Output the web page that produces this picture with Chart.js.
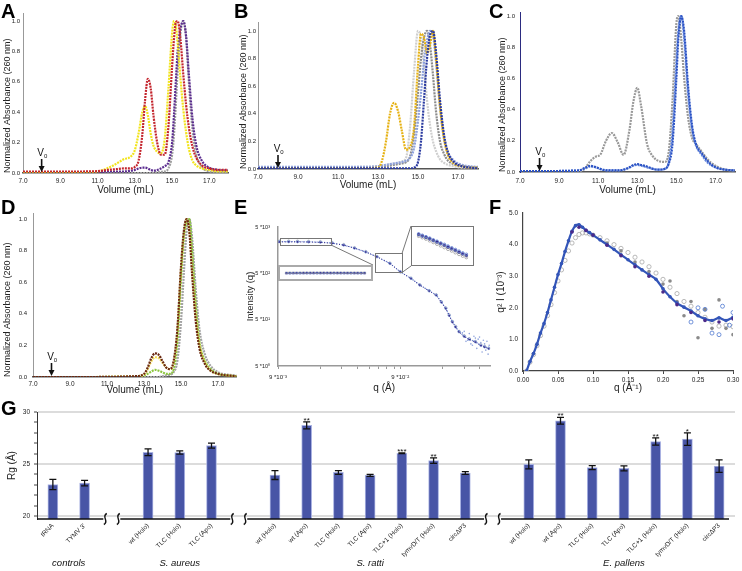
<!DOCTYPE html>
<html>
<head>
<meta charset="utf-8">
<script src="https://cdn.jsdelivr.net/npm/chart.js@4.4.1/dist/chart.umd.min.js"></script>
<style>
  html, body { margin: 0; padding: 0; background: #fff; }
  #fig { position: relative; width: 742px; height: 571px; overflow: hidden; font-family: "Liberation Sans", Arial, sans-serif; }
  #fig canvas { position: absolute; }
  .letter { position: absolute; font-weight: bold; font-size: 20px; line-height: 20px; color: #000; z-index: 5; }
  .inset { position: absolute; background: #fff; z-index: 4; }
  .inset canvas { position: static !important; display: block; }
</style>
</head>
<body>
<div id="fig">
  <canvas id="cA" width="240" height="197" style="left:0;top:0"></canvas>
  <canvas id="cB" width="254" height="192" style="left:236px;top:0"></canvas>
  <canvas id="cC" width="247" height="197" style="left:495px;top:0"></canvas>
  <canvas id="cD" width="245" height="202" style="left:0;top:195px"></canvas>
  <canvas id="cE" width="250" height="200" style="left:245px;top:195px"></canvas>
  <canvas id="cF" width="247" height="200" style="left:495px;top:195px"></canvas>
  <canvas id="cG" width="742" height="176" style="left:0;top:395px"></canvas>
  <div class="inset" style="left:278px;top:265px;border:2px solid #aaa"><canvas id="cE1" width="91" height="12"></canvas></div>
  <div class="inset" style="left:411px;top:226px;border:1px solid #777"><canvas id="cE2" width="61" height="38"></canvas></div>
  <div class="letter" style="left:1px;top:1px">A</div>
  <div class="letter" style="left:234px;top:1px">B</div>
  <div class="letter" style="left:489px;top:1px">C</div>
  <div class="letter" style="left:1px;top:197px">D</div>
  <div class="letter" style="left:234px;top:197px">E</div>
  <div class="letter" style="left:489px;top:197px">F</div>
  <div class="letter" style="left:1px;top:398px">G</div>
</div>
<script>
// ---- chromatograms (A-D) ----
const volTicks = [7, 9, 11, 13, 15, 17];
const absTicks = [0, 0.2, 0.4, 0.6, 0.8, 1.0];

const xA = [7.0, 10.0, 11.0, 11.5, 12.0, 12.4, 12.8, 13.0, 13.2, 13.4, 13.55, 13.7, 13.85, 14.0, 14.2, 14.4, 14.6, 14.8, 15.0, 15.1, 15.2, 15.3, 15.45, 15.6, 15.75, 15.9, 16.1, 16.3, 16.6, 17.0, 17.5, 18.0];
const redA = [0.01, 0.01, 0.012, 0.02, 0.025, 0.03, 0.03, 0.04, 0.08, 0.25, 0.48, 0.62, 0.56, 0.38, 0.2, 0.12, 0.12, 0.3, 0.7, 0.88, 0.99, 1.0, 0.88, 0.65, 0.45, 0.3, 0.17, 0.1, 0.05, 0.03, 0.02, 0.02];
const yellowA = [0.005, 0.005, 0.01, 0.03, 0.06, 0.09, 0.11, 0.15, 0.26, 0.40, 0.44, 0.38, 0.26, 0.18, 0.14, 0.13, 0.22, 0.55, 0.92, 1.0, 0.97, 0.85, 0.62, 0.42, 0.27, 0.16, 0.08, 0.05, 0.03, 0.02, 0.01, 0.01];
const purpleA = [0.005, 0.005, 0.005, 0.01, 0.01, 0.01, 0.015, 0.02, 0.03, 0.035, 0.035, 0.03, 0.02, 0.015, 0.02, 0.03, 0.045, 0.07, 0.2, 0.38, 0.6, 0.8, 0.95, 1.0, 0.9, 0.65, 0.35, 0.18, 0.08, 0.035, 0.02, 0.015];
const grayA = [0, 0, 0, 0, 0, 0, 0, 0, 0, 0, 0, 0, 0, 0, 0.005, 0.008, 0.01, 0.03, 0.12, 0.25, 0.45, 0.68, 0.92, 1.0, 0.9, 0.6, 0.28, 0.12, 0.04, 0.01, 0.005, 0.005];

const xB = [7.0, 10.0, 12.0, 13.0, 13.2, 13.4, 13.6, 13.8, 14.0, 14.2, 14.4, 14.6, 14.8, 15.0, 15.15, 15.3, 15.45, 15.6, 15.75, 15.9, 16.1, 16.3, 16.5, 16.8, 17.2, 17.6, 18.0];
const goldB = [0.005, 0.005, 0.005, 0.01, 0.06, 0.2, 0.4, 0.48, 0.42, 0.27, 0.14, 0.16, 0.3, 0.75, 0.98, 0.95, 0.84, 0.9, 1.0, 0.8, 0.45, 0.22, 0.1, 0.04, 0.02, 0.01, 0.01];
const lightGrayB = [0.01, 0.01, 0.015, 0.02, 0.025, 0.03, 0.035, 0.04, 0.045, 0.055, 0.08, 0.3, 0.7, 1.0, 0.95, 0.75, 0.5, 0.32, 0.2, 0.13, 0.07, 0.045, 0.03, 0.02, 0.01, 0.01, 0.01];
const darkGrayB = [0.005, 0.005, 0.008, 0.01, 0.015, 0.02, 0.025, 0.03, 0.035, 0.04, 0.05, 0.09, 0.25, 0.55, 0.8, 0.95, 1.0, 0.9, 0.68, 0.42, 0.2, 0.11, 0.06, 0.035, 0.02, 0.01, 0.01];
const lightBlueB = [0.015, 0.015, 0.015, 0.02, 0.025, 0.03, 0.035, 0.04, 0.045, 0.05, 0.06, 0.08, 0.15, 0.35, 0.55, 0.78, 0.93, 1.0, 0.97, 0.78, 0.45, 0.22, 0.12, 0.06, 0.03, 0.02, 0.015];
const darkBlueB = [0.005, 0.005, 0.005, 0.005, 0.005, 0.005, 0.005, 0.005, 0.005, 0.005, 0.005, 0.005, 0.01, 0.05, 0.2, 0.5, 0.8, 0.97, 1.0, 0.85, 0.5, 0.25, 0.12, 0.05, 0.02, 0.01, 0.005];

const xC = [7.0, 10.0, 10.3, 10.6, 10.9, 11.1, 11.4, 11.7, 12.0, 12.3, 12.6, 12.8, 13.0, 13.2, 13.5, 13.8, 14.1, 14.4, 14.6, 14.8, 15.0, 15.1, 15.25, 15.4, 15.6, 15.8, 16.0, 16.3, 16.6, 17.0, 17.5, 18.0];
const grayC = [0.005, 0.005, 0.02, 0.07, 0.1, 0.11, 0.2, 0.25, 0.19, 0.11, 0.27, 0.45, 0.54, 0.42, 0.18, 0.1, 0.07, 0.065, 0.12, 0.45, 0.95, 1.0, 0.85, 0.6, 0.35, 0.22, 0.18, 0.13, 0.08, 0.04, 0.015, 0.01];
const blueC = [0.005, 0.01, 0.025, 0.04, 0.03, 0.02, 0.01, 0.01, 0.01, 0.015, 0.03, 0.045, 0.05, 0.045, 0.035, 0.02, 0.015, 0.02, 0.05, 0.18, 0.6, 0.85, 1.0, 0.9, 0.55, 0.3, 0.18, 0.12, 0.07, 0.03, 0.015, 0.01];
const lightBlueC = [0.005, 0.01, 0.02, 0.035, 0.03, 0.02, 0.012, 0.01, 0.01, 0.015, 0.028, 0.04, 0.045, 0.04, 0.03, 0.02, 0.015, 0.02, 0.06, 0.25, 0.7, 0.9, 1.0, 0.85, 0.5, 0.28, 0.17, 0.11, 0.06, 0.03, 0.015, 0.01];

const xD = [7.0, 10.0, 12.5, 13.0, 13.2, 13.4, 13.6, 13.8, 14.0, 14.2, 14.4, 14.6, 14.8, 15.0, 15.15, 15.3, 15.45, 15.6, 15.8, 16.0, 16.3, 16.6, 17.0, 17.5, 18.0];
const brownD = [0, 0, 0.005, 0.02, 0.06, 0.12, 0.15, 0.14, 0.1, 0.06, 0.05, 0.1, 0.3, 0.7, 0.92, 1.0, 0.92, 0.65, 0.35, 0.18, 0.08, 0.04, 0.02, 0.01, 0.005];
const yellowD = [0, 0, 0.005, 0.015, 0.05, 0.1, 0.125, 0.12, 0.09, 0.06, 0.05, 0.09, 0.28, 0.68, 0.9, 1.0, 0.93, 0.68, 0.38, 0.2, 0.09, 0.04, 0.02, 0.01, 0.005];
const greenD = [0, 0, 0.003, 0.01, 0.02, 0.035, 0.045, 0.04, 0.03, 0.02, 0.02, 0.05, 0.22, 0.62, 0.88, 0.98, 1.0, 0.8, 0.45, 0.22, 0.1, 0.05, 0.02, 0.01, 0.005];
const grayD = [0, 0, 0, 0, 0, 0, 0, 0, 0.005, 0.01, 0.015, 0.03, 0.1, 0.35, 0.65, 0.92, 1.0, 0.88, 0.55, 0.3, 0.14, 0.07, 0.03, 0.015, 0.01];

// ---- SAXS intensity (E) ----
const eYTicks = [5, 50, 500, 5000];
const eYLabels = ['5 *10⁰', '5 *10¹', '5 *10²', '5 *10³'];
const eXTicks = [0.009, 0.02, 0.03, 0.04, 0.05, 0.06, 0.07, 0.08, 0.09, 0.2, 0.3, 0.4];
const eXLabels = ['9 *10⁻³', '', '', '', '', '', '', '', '9 *10⁻²', '', '', ''];
const qE = [0.0092, 0.011, 0.013, 0.016, 0.02, 0.025, 0.031, 0.038, 0.047, 0.058, 0.074, 0.09, 0.11, 0.13, 0.155, 0.177, 0.195, 0.212, 0.226, 0.24, 0.255, 0.272, 0.3, 0.33, 0.37, 0.41, 0.44, 0.476];
const iBlueE = [2420, 2420, 2410, 2390, 2350, 2250, 2040, 1750, 1450, 1140, 820, 540, 390, 280, 210, 170, 120, 88, 62, 45, 35, 27.5, 22, 19, 16.7, 14, 13, 12];
const iGrayE = [2500, 2510, 2500, 2470, 2420, 2310, 2090, 1790, 1480, 1160, 830, 545, 392, 282, 212, 172, 122, 90, 64, 46, 36, 28, 22.5, 19.5, 17, 14.5, 13.3, 12.3];
const iPurpleE = [2380, 2390, 2385, 2370, 2330, 2235, 2030, 1745, 1445, 1135, 818, 538, 388, 278, 208, 168, 119, 87, 61, 44, 34.5, 27, 21.5, 18.7, 16.4, 13.8, 12.8, 11.8];
const noiseQE = [0.3, 0.31, 0.33, 0.34, 0.36, 0.38, 0.39, 0.41, 0.42, 0.43, 0.45, 0.46, 0.47, 0.48, 0.35, 0.4, 0.44, 0.37, 0.32, 0.29];
const noiseIE = [28, 17, 25, 15, 22, 12, 19, 16, 10, 18, 11, 17, 9, 14, 14, 21, 15, 20, 18, 26];
// insets of E
const insetLIdx = [1, 2, 3, 4, 5, 6, 7, 8, 9, 10, 11, 12, 13, 14, 15, 16, 17, 18, 19, 20, 21, 22, 23, 24];
const insetLGray = [0.8, 0.78, 0.82, 0.79, 0.8, 0.83, 0.79, 0.81, 0.84, 0.8, 0.82, 0.79, 0.81, 0.83, 0.8, 0.82, 0.79, 0.77, 0.81, 0.79, 0.76, 0.79, 0.77, 0.75];
const insetLPurple = [0.38, 0.42, 0.44, 0.45, 0.46, 0.48, 0.49, 0.48, 0.5, 0.5, 0.49, 0.5, 0.48, 0.48, 0.49, 0.48, 0.47, 0.46, 0.46, 0.45, 0.44, 0.44, 0.43, 0.43];
const insetLBlue = [0.2, 0.26, 0.28, 0.3, 0.32, 0.33, 0.35, 0.34, 0.36, 0.36, 0.35, 0.36, 0.35, 0.34, 0.36, 0.34, 0.33, 0.34, 0.32, 0.33, 0.31, 0.32, 0.3, 0.31];
const insetRIdx = [1, 2, 3, 4, 5, 6, 7, 8, 9, 10, 11, 12, 13, 14];
const insetRBlue = [0.92, 0.87, 0.82, 0.77, 0.71, 0.66, 0.6, 0.55, 0.49, 0.43, 0.37, 0.31, 0.25, 0.2];
const insetRGray = [0.85, 0.8, 0.75, 0.69, 0.63, 0.57, 0.51, 0.45, 0.39, 0.33, 0.27, 0.21, 0.15, 0.1];
const insetRPurple = [0.9, 0.85, 0.8, 0.75, 0.69, 0.64, 0.58, 0.52, 0.46, 0.4, 0.34, 0.28, 0.22, 0.16];

// ---- Kratky (F) ----
const fXTicks = [0, 0.05, 0.1, 0.15, 0.2, 0.25, 0.3];
const fYTicks = [0, 1, 2, 3, 4, 5];
const qF = [0.005, 0.01, 0.015, 0.02, 0.025, 0.03, 0.035, 0.04, 0.045, 0.05, 0.055, 0.06, 0.065, 0.07, 0.075, 0.08, 0.085, 0.09, 0.095, 0.1, 0.11, 0.12, 0.13, 0.14, 0.15, 0.16, 0.17, 0.18, 0.19, 0.2, 0.21, 0.22, 0.23, 0.24, 0.25, 0.26, 0.27, 0.28, 0.29, 0.3];
const blueF = [0.0, 0.3, 0.55, 0.85, 1.2, 1.5, 1.85, 2.25, 2.65, 3.05, 3.4, 3.78, 4.12, 4.42, 4.6, 4.63, 4.55, 4.45, 4.38, 4.3, 4.15, 4.0, 3.85, 3.68, 3.52, 3.36, 3.2, 3.05, 2.9, 2.6, 2.35, 2.15, 2.02, 1.9, 1.75, 1.65, 1.6, 1.68, 1.6, 1.7];
const grayOpenF = [0.0, 0.28, 0.52, 0.8, 1.12, 1.42, 1.75, 2.1, 2.48, 2.85, 3.2, 3.5, 3.8, 4.05, 4.22, 4.32, 4.37, 4.37, 4.34, 4.3, 4.22, 4.12, 4.0, 3.88, 3.75, 3.6, 3.45, 3.3, 3.1, 2.9, 2.65, 2.45, 2.2, 2.05, 1.85, 1.7, 1.55, 1.42, 1.45, 1.4];
const qFP = [0.07, 0.08, 0.09, 0.1, 0.12, 0.14, 0.16, 0.18, 0.2, 0.22, 0.24, 0.26, 0.28, 0.3];
const purpleF = [4.4, 4.55, 4.45, 4.3, 3.98, 3.65, 3.3, 3.0, 2.5, 2.1, 1.85, 1.6, 1.55, 1.65];
const qFG = [0.1, 0.12, 0.14, 0.16, 0.18, 0.2, 0.21, 0.22, 0.23, 0.24, 0.25, 0.26, 0.27, 0.28, 0.29, 0.3];
const grayFilledF = [4.3, 4.05, 3.8, 3.45, 3.15, 2.75, 2.85, 2.2, 1.75, 2.2, 1.05, 1.95, 1.35, 2.25, 1.35, 1.15];
const noiseQB = [0.24, 0.25, 0.26, 0.27, 0.28, 0.285, 0.295, 0.3];
const noiseVB = [1.55, 2.0, 1.95, 1.2, 1.15, 2.05, 1.45, 1.85];

// ---- Rg bars (G) ----
const rgTicks = [20, 21, 22, 23, 24, 25, 26, 27, 28, 29, 30];
const groupNames = ['controls', 'S. aureus', 'S. ratti', 'E. pallens'];
const controlsLabels = ['tRNA', "TYMV 3'"];
const controlsRg = [23.03, 23.16];
const controlsErr = [0.5, 0.27];
const controlsSig = ['', ''];
const aureusLabels = ['wt (Holo)', 'TLC (Holo)', 'TLC (Apo)'];
const aureusRg = [26.13, 26.1, 26.77];
const aureusErr = [0.32, 0.16, 0.24];
const aureusSig = ['', '', ''];
const rattiLabels = ['wt (Holo)', 'wt (Apo)', 'TLC (Holo)', 'TLC (Apo)', 'TLC+1 (Holo)', 'tymvD/T (Holo)', 'circΔP3'];
const rattiRg = [23.94, 28.71, 24.19, 23.9, 26.03, 25.32, 24.13];
const rattiErr = [0.43, 0.34, 0.18, 0.1, 0.04, 0.26, 0.13];
const rattiSig = ['', '**', '', '', '***', '**', ''];
const pallensLabels = ['wt (Holo)', 'wt (Apo)', 'TLC (Holo)', 'TLC (Apo)', 'TLC+1 (Holo)', 'tymvD/T (Holo)', 'circΔP3'];
const pallensRg = [24.97, 29.16, 24.65, 24.58, 27.16, 27.39, 24.8];
const pallensErr = [0.43, 0.32, 0.2, 0.24, 0.35, 0.6, 0.6];
const pallensSig = ['', '**', '', '', '**', '*', ''];

const FONT = '"Liberation Sans", Arial, sans-serif';
Chart.defaults.font.family = FONT;
Chart.defaults.color = '#222';
Chart.defaults.animation = false;

const pts = (xs, ys) => xs.map((x, i) => ({x, y: ys[i]}));
const setTicks = list => s => { s.ticks = list.map(v => ({value: v})); };
const noPlugins = {legend: {display: false}, tooltip: {enabled: false}};

// V0 arrow marker
const v0Plugin = {
  id: 'v0',
  afterDraw(chart, args, opts) {
    const {ctx, scales: {x, y}} = chart;
    const px = x.getPixelForValue(opts.at), base = y.getPixelForValue(0);
    ctx.save();
    ctx.fillStyle = '#111'; ctx.strokeStyle = '#111';
    ctx.textAlign = 'center'; ctx.textBaseline = 'middle';
    ctx.font = '10px ' + FONT;
    ctx.fillText('V', px - 1, base - 20);
    ctx.font = '6px ' + FONT;
    ctx.fillText('0', px + 4, base - 17);
    ctx.lineWidth = 1.6;
    ctx.beginPath(); ctx.moveTo(px, base - 14); ctx.lineTo(px, base - 6); ctx.stroke();
    ctx.beginPath(); ctx.moveTo(px - 3, base - 7); ctx.lineTo(px + 3, base - 7); ctx.lineTo(px, base - 1); ctx.closePath(); ctx.fill();
    ctx.restore();
  }
};

function chromChart(id, xs, series, cfg) {
  return new Chart(document.getElementById(id), {
    type: 'line',
    data: {
      datasets: series.map(s => ({
        data: pts(xs, s.ys), borderColor: s.color, borderWidth: 2.2, borderDash: [2, 1],
        pointRadius: 0, cubicInterpolationMode: 'monotone'
      }))
    },
    options: {
      responsive: false,
      layout: {padding: {top: cfg.top, right: cfg.right, left: 0, bottom: 0}},
      plugins: {...noPlugins, v0: {at: 8.0}},
      scales: {
        x: {
          type: 'linear', min: 7, max: 18,
          grid: {display: false, drawTicks: false},
          border: {color: '#555', width: 1.5},
          afterBuildTicks: setTicks(volTicks),
          ticks: {padding: cfg.xPad, font: {size: 6.5}, maxRotation: 0, autoSkip: false, callback: v => v.toFixed(1)},
          title: {display: true, text: 'Volume (mL)', font: {size: 10}, padding: {top: 0, bottom: 1}},
          afterFit: s => { s.height = cfg.xH; }
        },
        y: {
          min: 0, max: cfg.yMax,
          grid: {display: false, drawTicks: false},
          border: {color: cfg.yColor || '#999', width: 1},
          afterBuildTicks: setTicks(absTicks),
          ticks: {padding: cfg.yPad, font: {size: 6}, autoSkip: false, callback: v => v.toFixed(1)},
          title: {display: true, text: 'Normalized Absorbance (260 nm)', align: 'start', font: {size: 9}, padding: {top: cfg.yTitlePad, bottom: 0}},
          afterFit: s => { s.width = cfg.yW; }
        }
      }
    },
    plugins: [v0Plugin]
  });
}

chromChart('cA', xA, [
  {ys: redA, color: '#c4262e'},
  {ys: yellowA, color: '#f2e41c'},
  {ys: purpleA, color: '#5b2c8f'},
  {ys: grayA, color: '#a0a0a0'}
], {top: 13, right: 12, xH: 24, yW: 23, yMax: 1.053, xPad: 4, yPad: 3, yTitlePad: 2});

chromChart('cB', xB, [
  {ys: darkBlueB, color: '#2a3aa0'},
  {ys: goldB, color: '#e6b214'},
  {ys: lightBlueB, color: '#8da0dc'},
  {ys: darkGrayB, color: '#8c8c8c'},
  {ys: lightGrayB, color: '#cfcfcf'}
], {top: 22, right: 12, xH: 23, yW: 22, yMax: 1.065, xPad: 4, yPad: 2, yTitlePad: 2});

chromChart('cC', xC, [
  {ys: blueC, color: '#2b52c4'},
  {ys: lightBlueC, color: '#7393e0'},
  {ys: grayC, color: '#999999'}
], {top: 12, right: 7, xH: 25, yW: 25, yMax: 1.026, xPad: 5, yPad: 5, yTitlePad: 2, yColor: '#2b2b80'});

chromChart('cD', xD, [
  {ys: brownD, color: '#6a2812'},
  {ys: yellowD, color: '#f3dc5a'},
  {ys: greenD, color: '#8dc63f'},
  {ys: grayD, color: '#a3a3a3'}
], {top: 18, right: 8.5, xH: 20, yW: 33, yMax: 1.038, xPad: 3, yPad: 6, yTitlePad: 2});

// ---- E ----
const eDecor = {
  id: 'eDecor',
  afterDraw(chart) {
    const {ctx} = chart;
    ctx.save();
    ctx.strokeStyle = '#777'; ctx.lineWidth = 1;
    ctx.strokeRect(35.5, 43.5, 51, 7);
    ctx.strokeRect(130.5, 58.5, 27, 19);
    ctx.beginPath();
    ctx.moveTo(86, 50); ctx.lineTo(128, 70);
    ctx.moveTo(157, 58.5); ctx.lineTo(166, 31);
    ctx.moveTo(157, 77.5); ctx.lineTo(166, 71);
    ctx.stroke();
    ctx.restore();
  }
};

new Chart(document.getElementById('cE'), {
  type: 'scatter',
  data: {
    datasets: [
      {data: pts(qE, iPurpleE), showLine: true, borderColor: '#3a2a8a', borderWidth: 1, borderDash: [1, 2], pointRadius: 0.8, pointBackgroundColor: '#3a2a8a', pointBorderWidth: 0},
      {data: pts(qE, iBlueE), showLine: true, borderColor: '#5a7fd0', borderWidth: 1.2, borderDash: [1, 1.5], pointRadius: 1.2, pointBackgroundColor: 'rgba(0,0,0,0)', pointBorderColor: '#5a7fd0', pointBorderWidth: 0.7},
      {data: pts(qE, iGrayE), showLine: false, pointRadius: 1.2, pointBackgroundColor: 'rgba(0,0,0,0)', pointBorderColor: '#b0b0b0', pointBorderWidth: 0.6},
      {data: pts(noiseQE, noiseIE), showLine: false, pointRadius: 0.8, pointBackgroundColor: '#8fa3dc', pointBorderWidth: 0}
    ]
  },
  options: {
    responsive: false,
    layout: {padding: {top: 32, right: 2, left: 0, bottom: 0}},
    plugins: noPlugins,
    scales: {
      x: {
        type: 'logarithmic', min: 0.009, max: 0.49,
        grid: {display: true, drawOnChartArea: false, drawTicks: true, tickLength: 3, color: '#999'},
        border: {color: '#999', width: 1.5},
        afterBuildTicks: setTicks(eXTicks),
        ticks: {padding: 5, font: {size: 6}, maxRotation: 0, autoSkip: false, callback: (v, i) => eXLabels[i]},
        title: {display: true, text: 'q (Å)', font: {size: 10}, padding: {top: 0, bottom: 1}},
        afterFit: s => { s.height = 29; }
      },
      y: {
        type: 'logarithmic', min: 5, max: 5000,
        grid: {display: false, drawTicks: false},
        border: {color: '#999', width: 1.5},
        afterBuildTicks: setTicks(eYTicks),
        ticks: {padding: 8, font: {size: 5.5}, autoSkip: false, callback: (v, i) => eYLabels[i]},
        title: {display: true, text: 'Intensity (q)', font: {size: 9.5}, padding: {top: 0, bottom: 0}},
        afterFit: s => { s.width = 33; }
      }
    }
  },
  plugins: [eDecor]
});

function insetChart(id, xs, series, pad) {
  new Chart(document.getElementById(id), {
    type: 'scatter',
    data: {
      datasets: series.map(s => ({
        data: pts(xs, s.ys), pointRadius: s.r, pointBackgroundColor: s.fill,
        pointBorderColor: s.stroke, pointBorderWidth: 0.8
      }))
    },
    options: {
      responsive: false,
      layout: {padding: pad},
      plugins: noPlugins,
      scales: {
        x: {display: false, min: xs[0] - 0.5, max: xs[xs.length - 1] + 0.5},
        y: {display: false, min: 0, max: 1}
      }
    }
  });
}
insetChart('cE1', insetLIdx, [
  {ys: insetLGray, r: 1.4, fill: 'rgba(0,0,0,0)', stroke: '#9a9a9a'},
  {ys: insetLBlue, r: 1.4, fill: 'rgba(0,0,0,0)', stroke: '#4f73cc'},
  {ys: insetLPurple, r: 1.2, fill: '#3b2a8c', stroke: '#3b2a8c'}
], {left: 1, right: 1, top: 0, bottom: 0});
insetChart('cE2', insetRIdx, [
  {ys: insetRBlue, r: 1.5, fill: 'rgba(0,0,0,0)', stroke: '#4f73cc'},
  {ys: insetRGray, r: 1.5, fill: 'rgba(0,0,0,0)', stroke: '#9a9a9a'},
  {ys: insetRPurple, r: 1.3, fill: '#3b2a8c', stroke: '#3b2a8c'}
], {left: 3, right: 3, top: 2, bottom: 2});

// ---- F ----
new Chart(document.getElementById('cF'), {
  type: 'scatter',
  data: {
    datasets: [
      {data: pts(qFP, purpleF), pointRadius: 1.8, pointBackgroundColor: '#4b2a8a', pointBorderWidth: 0},
      {data: pts(qF, blueF), showLine: true, borderColor: '#3355b8', borderWidth: 2.2, tension: 0.3, pointRadius: 1.8, pointBackgroundColor: '#3355b8', pointBorderWidth: 0},
      {data: pts(noiseQB, noiseVB), pointRadius: 2, pointBackgroundColor: 'rgba(0,0,0,0)', pointBorderColor: '#4f78d0', pointBorderWidth: 0.8},
      {data: pts(qFG, grayFilledF), pointRadius: 1.8, pointBackgroundColor: '#8a8a8a', pointBorderWidth: 0},
      {data: pts(qF, grayOpenF), pointRadius: 2.1, pointBackgroundColor: 'rgba(0,0,0,0)', pointBorderColor: '#a8a8a8', pointBorderWidth: 0.8}
    ]
  },
  options: {
    responsive: false,
    layout: {padding: {top: 18, right: 9, left: 0, bottom: 0}},
    plugins: noPlugins,
    scales: {
      x: {
        type: 'linear', min: 0, max: 0.3,
        grid: {display: true, drawOnChartArea: false, drawTicks: true, tickLength: 3, color: '#444'},
        border: {color: '#444', width: 1.2},
        afterBuildTicks: setTicks(fXTicks),
        ticks: {padding: 2, font: {size: 6.5}, maxRotation: 0, autoSkip: false, callback: v => v.toFixed(2)},
        title: {display: true, text: 'q (Å⁻¹)', font: {size: 10}, padding: {top: 0, bottom: 1}},
        afterFit: s => { s.height = 24; }
      },
      y: {
        min: 0, max: 5,
        grid: {display: false, drawTicks: false},
        border: {color: '#444', width: 1.2},
        afterBuildTicks: setTicks(fYTicks),
        ticks: {padding: 5, font: {size: 6.5}, autoSkip: false, callback: v => v.toFixed(1)},
        title: {display: true, text: 'q² I (10⁻³)', font: {size: 10}, padding: {top: 0, bottom: 0}},
        afterFit: s => { s.width = 28; }
      }
    }
  }
});

// ---- G ----
const groups = [
  {labels: controlsLabels, rg: controlsRg, err: controlsErr, sig: controlsSig},
  {labels: aureusLabels, rg: aureusRg, err: aureusErr, sig: aureusSig},
  {labels: rattiLabels, rg: rattiRg, err: rattiErr, sig: rattiSig},
  {labels: pallensLabels, rg: pallensRg, err: pallensErr, sig: pallensSig}
];
const gLabels = [], gRg = [], gErr = [], gSig = [], gSpans = [], gGaps = [];
groups.forEach((g, k) => {
  if (k > 0) { gGaps.push(gLabels.length); gLabels.push(''); gRg.push(null); gErr.push(0); gSig.push(''); }
  const start = gLabels.length;
  g.labels.forEach((l, i) => { gLabels.push(l); gRg.push(g.rg[i]); gErr.push(g.err[i]); gSig.push(g.sig[i]); });
  gSpans.push([start, gLabels.length - 1]);
});

const gExtras = {
  id: 'gExtras',
  afterDatasetsDraw(chart) {
    const {ctx, chartArea, scales: {x, y}} = chart;
    const meta = chart.getDatasetMeta(0);
    ctx.save();
    ctx.strokeStyle = '#111'; ctx.fillStyle = '#111'; ctx.lineWidth = 1.3;
    // error bars and significance stars
    gRg.forEach((v, i) => {
      if (v == null) return;
      const px = meta.data[i].x;
      const t = y.getPixelForValue(v + gErr[i]), b = y.getPixelForValue(v - gErr[i]);
      ctx.beginPath();
      ctx.moveTo(px, t); ctx.lineTo(px, b);
      ctx.moveTo(px - 3.5, t); ctx.lineTo(px + 3.5, t);
      ctx.moveTo(px - 3.5, b); ctx.lineTo(px + 3.5, b);
      ctx.stroke();
      if (gSig[i]) {
        ctx.font = '8px ' + FONT; ctx.textAlign = 'center'; ctx.textBaseline = 'alphabetic';
        ctx.fillText(gSig[i], px, t + 1);
      }
    });
    // broken x axis
    const yb = chartArea.bottom;
    const squiggle = cx => {
      ctx.beginPath();
      ctx.moveTo(cx + 1.5, yb - 5.5);
      ctx.bezierCurveTo(cx - 4.5, yb - 2.5, cx + 4.5, yb + 2.5, cx - 1.5, yb + 5.5);
      ctx.stroke();
    };
    let cur = chartArea.left;
    ctx.lineWidth = 1.4;
    gGaps.forEach(i => {
      const c = x.getPixelForValue(i);
      ctx.beginPath(); ctx.moveTo(cur, yb); ctx.lineTo(c - 13, yb); ctx.stroke();
      squiggle(c - 11); squiggle(c + 2);
      cur = c + 4;
    });
    ctx.beginPath(); ctx.moveTo(cur, yb); ctx.lineTo(chartArea.right - 6, yb); ctx.stroke();
    // group names
    ctx.font = 'italic 9.5px ' + FONT; ctx.textAlign = 'center'; ctx.textBaseline = 'middle';
    gSpans.forEach(([a, b], k) => {
      const cx = (x.getPixelForValue(a) + x.getPixelForValue(b)) / 2;
      ctx.fillText(groupNames[k], cx, 168);
    });
    ctx.restore();
  }
};

new Chart(document.getElementById('cG'), {
  type: 'bar',
  data: {
    labels: gLabels,
    datasets: [{
      data: gRg, backgroundColor: '#4855a6', borderColor: '#aab3e2', borderWidth: 1,
      barThickness: 10
    }]
  },
  options: {
    responsive: false,
    layout: {padding: {top: 17, right: 7, left: 0, bottom: 0}},
    plugins: noPlugins,
    scales: {
      x: {
        grid: {display: false, drawTicks: false},
        border: {display: false},
        ticks: {padding: 3, font: {size: 6.5}, minRotation: 45, maxRotation: 45, autoSkip: false},
        afterFit: s => { s.height = 52; }
      },
      y: {
        min: 19.71, max: 30,
        grid: {
          color: c => (c.tick && c.tick.value % 5 === 0) ? '#dcdcdc' : 'rgba(0,0,0,0)',
          lineWidth: 2, tickColor: '#444', tickLength: 3, tickWidth: 1
        },
        border: {color: '#333', width: 1},
        afterBuildTicks: setTicks(rgTicks),
        ticks: {padding: 4, font: {size: 6.5}, autoSkip: false, callback: v => (v % 5 === 0 ? String(v) : '')},
        title: {display: true, text: 'Rg (Å)', font: {size: 10}, padding: {top: 6, bottom: 0}},
        afterFit: s => { s.width = 37; }
      }
    }
  },
  plugins: [gExtras]
});
</script>
</body>
</html>
